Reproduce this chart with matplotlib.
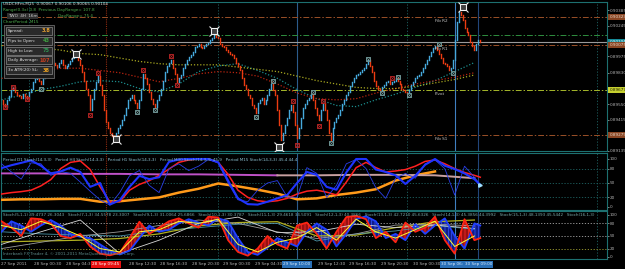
import datetime as dt
import numpy as np
import matplotlib
matplotlib.use("Agg")
import matplotlib.pyplot as plt
import matplotlib.transforms as mtrans
from matplotlib.patches import Rectangle

# ---- data (prices in pips, 1 pip = 0.0001) ----
closes = [
    8959, 8955, 8953, 8959, 8962, 8968, 8970, 8966, 8963, 8962,
    8961, 8964, 8962, 8960, 8966, 8969, 8975, 8977, 8981, 8976,
    8973, 8978, 8984, 8985, 8989, 8991, 8992, 8990, 8988, 8992,
    8994, 8990, 8987, 8989, 8991, 8993, 8996, 8997, 8999, 8994,
    8990, 8984, 8976, 8969, 8963, 8950, 8960, 8969, 8975, 8980,
    8972, 8963, 8950, 8939, 8934, 8930, 8927, 8925, 8930, 8934,
    8937, 8941, 8946, 8952, 8959, 8961, 8963, 8959, 8956, 8952,
    8959, 8969, 8982, 8978, 8973, 8966, 8960, 8955, 8953, 8959,
    8963, 8969, 8976, 8984, 8989, 8992, 8994, 8987, 8982, 8975,
    8978, 8981, 8987, 8991, 8994, 8997, 8999, 9001, 9006, 9007,
    9008, 9006, 9005, 9007, 9008, 9009, 9012, 9014, 9017, 9015,
    9014, 9008, 9007, 9006, 9003, 9001, 9000, 8999, 8996, 8992,
    8989, 8985, 8978, 8972, 8969, 8963, 8961, 8954, 8952, 8947,
    8956, 8959, 8961, 8955, 8959, 8963, 8969, 8973, 8968, 8963,
    8950, 8937, 8923, 8930, 8937, 8943, 8950, 8954, 8948, 8937,
    8925, 8934, 8943, 8952, 8955, 8959, 8961, 8964, 8959, 8952,
    8946, 8941, 8950, 8956, 8950, 8941, 8930, 8923, 8934, 8939,
    8943, 8946, 8950, 8955, 8959, 8963, 8966, 8971, 8975, 8978,
    8981, 8982, 8984, 8985, 8987, 8991, 8994, 8989, 8984, 8976,
    8971, 8969, 8968, 8970, 8972, 8975, 8976, 8973, 8975, 8976,
    8978, 8976, 8973, 8969, 8968, 8966, 8965, 8968, 8972, 8975,
    8978, 8980, 8981, 8984, 8987, 8991, 8994, 8998, 9001, 9005,
    9007, 9003, 9000, 8996, 8992, 8991, 8989, 8985, 8987, 8994,
    9012, 9028, 9037, 9034, 9030, 9023, 9019, 9016, 9010, 9007,
    9003, 9008, 9012, 9010.4,
]

# moving averages, one value every 10 bars
ma_teal = [8959, 8963, 8968, 8971, 8975, 8976, 8975, 8969, 8966, 8973, 8984, 8989, 8991,
           8985, 8978, 8968, 8960, 8954, 8953, 8959, 8964, 8970, 8976, 8984, 8992]
ma_red = [8978, 8981, 8984, 8987, 8987, 8985, 8983, 8979, 8975, 8978, 8982, 8984, 8983,
          8980, 8973, 8965, 8960, 8959, 8960, 8965, 8969, 8973, 8976, 8979, 8983]
ma_yellow = [9007, 9007, 9005, 9003, 9000, 8999, 8996, 8993, 8991, 8990, 8990, 8990, 8988,
             8986, 8984, 8980, 8976, 8973, 8970, 8969, 8969, 8971, 8974, 8977, 8981]

# daily levels
fib_r2 = 0.90323
green_lvl = 0.90163
fib_r1 = 0.90075
pivot = 0.89677
fib_s1 = 0.89279
bid = 0.90104

# fractals and zigzag points (bar index, pips)
frac_red_i = [6, 49, 72, 86, 148, 163, 198, 2, 13, 45, 89, 150, 161]
frac_red_p = [8970, 8983, 8985, 8998, 8958, 8958, 8978, 8953, 8960, 8946, 8972, 8919, 8936]
frac_grey_i = [20, 69, 78, 129, 138, 158, 167, 186, 193, 201, 207, 222, 229]
frac_grey_p = [8969, 8948, 8950, 8944, 8976, 8966, 8921, 8995, 8965, 8979, 8963, 9008, 8983]
zz_i = [38, 58, 108, 141, 234]
zz_p = [9000, 8924, 9020, 8917, 9041]

# panel 1: multi-timeframe stochastics (every 5 bars, last at bar 243)
st_h1 = [27, 30, 32, 35, 44, 57, 80, 93, 96, 78, 42, 11, 11, 35, 47, 55, 66, 79, 93, 98,
         100, 100, 93, 68, 35, 20, 13, 11, 13, 18, 27, 33, 35, 31, 25, 52, 82, 93, 82, 73,
         75, 78, 85, 95, 98, 90, 80, 72, 66, 62]
st_m30 = [81, 87, 92, 97, 86, 70, 74, 82, 73, 42, 50, 5, 14, 42, 65, 58, 62, 94, 99, 100,
          100, 100, 93, 55, 18, 6, 5, 11, 18, 25, 50, 73, 67, 42, 36, 72, 100, 100, 78, 73,
          66, 48, 65, 88, 100, 86, 79, 70, 58, 46]
st_m15 = [90, 73, 58, 92, 90, 66, 74, 70, 52, 33, 15, 4, 30, 65, 76, 45, 30, 80, 90, 76,
          85, 99, 92, 50, 15, 11, 35, 50, 55, 21, 20, 82, 70, 20, 45, 90, 99, 80, 40, 18,
          60, 70, 60, 90, 98, 80, 25, 85, 62, 46]
st_d1 = [15, 16, 16, 17, 17, 11, 12, 16, 20, 30, 38, 49, 43, 36, 28, 16, 18, 25, 30, 37, 55, 66, 74]
st_h4 = [70, 70, 69, 69, 68, 68, 67, 66, 66, 67, 67, 66, 60]

# panel 2: stochastic fan
sf_fast = [85, 70, 50, 92, 90, 80, 50, 45, 55, 25, 8, 4, 10, 45, 84, 55, 70, 85, 92, 80,
           70, 96, 94, 40, 12, 3, 20, 50, 30, 20, 75, 82, 55, 20, 60, 95, 98, 90, 45, 60,
           35, 82, 60, 70, 96, 40, 8, 90, 40, 45]
sf_slow = [60, 85, 75, 60, 75, 88, 75, 55, 48, 45, 30, 15, 6, 15, 45, 75, 60, 65, 80, 90,
           82, 75, 92, 85, 45, 12, 5, 22, 45, 35, 25, 60, 80, 65, 25, 55, 90, 97, 85, 45,
           55, 40, 78, 55, 75, 92, 50, 20, 80, 75]
sf_yellow = [75, 65, 85, 70, 50, 20, 12, 60, 65, 85, 80, 90, 30, 12, 35, 45, 70, 40, 90, 60,
             45, 65, 85, 25, 50]
sf_white = [30, 60, 88, 8, 40, 80, 95, 58, 60, 78, 70, 76, 68]
sf_grey = [20, 35, 50, 60, 75, 88, 80, 60, 44, 55, 76, 78, 74]
sf_olive = [36, 38, 40, 44, 55, 74, 82, 84, 50, 52, 70, 84, 88]
sf_teal = [60, 55, 52, 50, 62, 70, 78, 80, 38, 55, 62, 75, 66]

price_ticks = [0.90385, 0.90245, 0.89975, 0.89830, 0.89550, 0.89415, 0.89139]
osc_ticks = [100, 80, 50, 20, 0]

start = dt.datetime(2011, 9, 27, 20, 30)
red_vline = 53
blue_vlines = [150, 230, 242]
grid_days = [14, 110, 206, 302]

# ---- figure ----
W, H = 625, 269
def fx(px): return px / W
def fy(py): return 1 - py / H

UP = "#46a9dc"
DN = "#ec3c12"
GRID = "#1f6464"
SPINE = "#1d7070"
TXT = "#b4b4b4"
FS = 3.0

fig = plt.figure(figsize=(W / 100, H / 100), dpi=100, facecolor="black")
ax = fig.add_axes([fx(1), fy(151), fx(606), (151 - 2) / H])
ax1 = fig.add_axes([fx(1), fy(210), fx(606), (210 - 153) / H])
ax2 = fig.add_axes([fx(1), fy(259), fx(606), (259 - 211) / H])

for a in (ax, ax1, ax2):
    a.set_facecolor("black")
    a.set_xlim(-0.25, 307.3)
    a.set_xticks([])
    for s in a.spines.values():
        s.set_color(SPINE)
        s.set_linewidth(0.8)
    a.yaxis.tick_right()
    a.tick_params(axis="y", colors=TXT, labelsize=FS, length=1.5, width=0.5, pad=0.6)
    for d in grid_days:
        a.axvline(d, color=GRID, ls=(0, (1.5, 2)), lw=0.6, zorder=0)
    a.axvline(red_vline, color="#8c2a10", ls=(0, (1, 1)), lw=0.8, zorder=1)
    a.axvline(blue_vlines[0], color="#2c5c8c", lw=0.8, zorder=1)
    a.axvline(blue_vlines[1], color="#3f7fc0", lw=0.8, zorder=1)
    a.axvline(blue_vlines[2], color="#22467a", lw=0.8, zorder=1)

# main chart
c = np.array(closes) / 10000
o = np.r_[c[0], c[:-1]]
idx = np.arange(len(c))
up = c >= o
l1 = ax.vlines(idx[up], o[up], c[up], color=UP, lw=1.0, zorder=4)
l2 = ax.vlines(idx[~up], c[~up], o[~up], color=DN, lw=1.0, zorder=4)
l1.set_capstyle("projecting")
l2.set_capstyle("projecting")

x10 = np.arange(len(ma_teal)) * 10
ax.plot(x10, np.array(ma_teal) / 1e4, color="#1c8c8c", ls=(0, (1, 1.5)), lw=0.9, zorder=3)
ax.plot(x10, np.array(ma_red) / 1e4, color="#b82410", ls=(0, (1, 1.5)), lw=0.9, zorder=3)
ax.plot(x10, np.array(ma_yellow) / 1e4, color="#a8a820", ls=(0, (1, 1.5)), lw=0.9, zorder=3)

dashdot = (0, (6, 2, 1.5, 2))
ax.axhline(fib_r2, color="#9a5028", ls=dashdot, lw=0.7, zorder=2)
ax.axhline(green_lvl, color="#2f8f3f", ls=dashdot, lw=0.7, zorder=2)
ax.axhline(bid, color="#9a9a9a", lw=0.8, zorder=2)
ax.axhline(fib_r1, color="#9a5028", ls=dashdot, lw=0.7, zorder=2)
ax.axhline(pivot, color="#a6b82a", ls=dashdot, lw=0.7, zorder=2)
ax.axhline(fib_s1, color="#9a5028", ls=dashdot, lw=0.7, zorder=2)

for name, lvl in [("Fib R2", fib_r2), ("Fib R1", fib_r1), ("Pivot", pivot), ("Fib S1", fib_s1)]:
    ax.annotate(name, (220, lvl), xytext=(0, -1.2), textcoords="offset points",
                va="top", ha="left", color="#c8c8c8", fontsize=FS, zorder=6)

ax.plot(frac_red_i, np.array(frac_red_p) / 1e4, ls="none", marker="s", ms=3.2,
        mfc="none", mec="#b02424", mew=0.7, zorder=5)
ax.plot(frac_red_i, np.array(frac_red_p) / 1e4, ls="none", marker="x", ms=2.4,
        mec="#b02424", mew=0.5, zorder=5)
ax.plot(frac_grey_i, np.array(frac_grey_p) / 1e4, ls="none", marker="s", ms=3.2,
        mfc="none", mec="#6e9494", mew=0.7, zorder=5)
ax.plot(frac_grey_i, np.array(frac_grey_p) / 1e4, ls="none", marker="x", ms=2.4,
        mec="#6e9494", mew=0.5, zorder=5)
ax.plot(zz_i, np.array(zz_p) / 1e4, ls="none", marker="x", ms=7, mec="#e8e8e8", mew=0.8, zorder=6)
ax.plot(zz_i, np.array(zz_p) / 1e4, ls="none", marker="s", ms=4.5, mfc="#404040",
        mec="#f0f0f0", mew=0.8, zorder=7)

ax.set_ylim(0.89137, 0.90456)
ax.set_yticks(price_ticks)
ax.set_yticklabels([f"{t:.5f}" for t in price_ticks])

tr = mtrans.blended_transform_factory(ax.transAxes, ax.transData)
for lvl, fc, tc in [(fib_r2, "#8a4624", "#e8d8c8"), (bid, "#168a98", "#e8ffff"),
                    (fib_r1, "#8a4624", "#e8d8c8"), (pivot, "#c6d030", "#202000"),
                    (fib_s1, "#8a4624", "#e8d8c8")]:
    ax.text(1.004, lvl, f"{lvl:.5f}", transform=tr, ha="left", va="center", fontsize=FS,
            color=tc, clip_on=False, zorder=10,
            bbox=dict(facecolor=fc, edgecolor="none", pad=0.7))

# panel 1
x5 = list(range(0, 241, 5)) + [243]
x20 = np.arange(len(st_h4)) * 20
ax1.plot(np.arange(len(st_d1)) * 10, st_d1, color="#ff9a1a", lw=1.8, zorder=3)
ax1.plot(x20[:8], st_h4[:8], color="#c052c8", lw=1.4, zorder=3)
ax1.plot(x20[7:], st_h4[7:], color="#c8a0a0", lw=1.4, zorder=3)
ax1.plot(x5, st_h1, color="#ff2020", lw=1.1, zorder=4)
ax1.plot(x5, st_m15, color="#2a3ee8", lw=0.6, zorder=4)
ax1.plot(x5, st_m30, color="#1f34ff", lw=1.5, zorder=5)
ax1.plot([x5[-1]], [st_m15[-1]], ls="none", marker=">", ms=2.5, color="#a0e0ff", zorder=6)
for lv in (80, 50, 20):
    ax1.axhline(lv, color=GRID, ls=(0, (1.5, 2)), lw=0.6, zorder=0)
ax1.set_ylim(-6.25, 112.5)
ax1.set_yticks(osc_ticks)
ax1.set_yticklabels([str(t) for t in osc_ticks])
ax1.text(0.004, 0.877,
         "Period D1 Stoch(14,3,3)   Period H4 Stoch(14,3,3)   Period H1 Stoch(14,3,3)   "
         "Period M30 Stoch(14,3,3) 45.9   Period M15 Stoch(14,3,3) 45.4 44.4",
         transform=ax1.transAxes, color="#8cc0d0", fontsize=FS, va="center", zorder=22,
         clip_on=True)

# panel 2
plt.rcParams["hatch.linewidth"] = 0.5
fast = np.array(sf_fast, float)
slow = np.array(sf_slow, float)
ax2.fill_between(x5, fast, slow, where=fast >= slow, interpolate=True, facecolor="#9a1010",
                 edgecolor="#ff3030", hatch="|||||", lw=0, zorder=2)
ax2.fill_between(x5, fast, slow, where=fast < slow, interpolate=True, facecolor="#101c8a",
                 edgecolor="#3858ff", hatch="|||||", lw=0, zorder=2)
x20b = np.arange(len(sf_white)) * 20
ax2.plot(x20b, sf_olive, color="#b0b020", lw=0.9, zorder=3)
ax2.plot(x20b, sf_teal, color="#4a94a8", lw=0.6, zorder=3)
ax2.plot(x20b, sf_grey, color="#9c9c9c", lw=0.6, zorder=3)
ax2.plot(x20b, sf_white, color="#d8d8d8", lw=0.6, zorder=3)
ax2.plot(x5, slow, color="#2040ff", lw=1.3, zorder=4)
ax2.plot(x5, fast, color="#ff2412", lw=1.3, zorder=5)
ax2.plot(np.arange(len(sf_yellow)) * 10, sf_yellow, color="#ffff30", lw=0.7, zorder=6)
ax2.axhline(80, color="#a8a8a8", ls=(0, (1.5, 2)), lw=0.6, zorder=1)
ax2.axhline(50, color="#a8a8a8", ls=(0, (1.5, 2)), lw=0.6, zorder=1)
ax2.axhline(20, color="#a0a030", ls=(0, (1.5, 2)), lw=0.6, zorder=1)
ax2.set_ylim(-4.8, 109.5)
ax2.set_yticks(osc_ticks)
ax2.set_yticklabels([str(t) for t in osc_ticks])
ax2.text(0.004, 0.917,
         "Stoch(5,1,1) 39.4737 26.3043   Stoch(7,1,3) 34.5578 23.3007   Stoch(9,1,3) 31.0064 25.6866   "
         "Stoch(10,1,3) 30.3787   Stoch(11,1,3) 29.4618 34.5091   Stoch(12,1,3) 40.3866   "
         "Stoch(13,1,3) 42.7210 45.6326   Stoch(14,1,3) 45.3856 44.3992   Stoch(15,1,3) 48.1393 45.5442   "
         "Stoch(16,1,3)",
         transform=ax2.transAxes, color="#78a8a8", fontsize=FS, va="center", zorder=22,
         clip_on=True)
ax2.text(0.004, 0.104, "Interbank FX Trader 4, \u00a9 2001-2011 MetaQuotes Software Corp.",
         transform=ax2.transAxes, color="#5e8a8a", fontsize=FS, va="center", zorder=22)

# time axis (labels hidden under the vertical-line boxes are skipped, as the terminal does)
times = [start + dt.timedelta(minutes=15 * i) for i in range(len(closes))]
trt = mtrans.blended_transform_factory(ax2.transData, ax2.transAxes)
boxed = [red_vline] + blue_vlines
ax2.text(0, -0.11, times[0].strftime("%d Sep %Y"), transform=trt, ha="left", va="center",
         fontsize=FS, color=TXT, clip_on=False, zorder=8)
for i in range(16, len(closes), 16):
    if any(abs(i - b) < 9 for b in boxed):
        continue
    ax2.text(i + 0.6, -0.11, times[i].strftime("%d Sep %H:%M"), transform=trt, ha="left",
             va="center", fontsize=FS, color=TXT, clip_on=False, zorder=8)
ax2.text(red_vline, -0.11, times[red_vline].strftime("%d Sep %H:%M"), transform=trt,
         ha="center", va="center", fontsize=FS, color="white", clip_on=False, zorder=9,
         bbox=dict(facecolor="#e81010", edgecolor="none", pad=0.9))
for v in blue_vlines:
    ax2.text(v, -0.11, times[v].strftime("%d Sep %H:%M"), transform=trt, ha="center",
             va="center", fontsize=FS, color="#d8ecff", clip_on=False, zorder=9,
             bbox=dict(facecolor="#2a70b8", edgecolor="none", pad=0.9))

# header texts
fig.text(fx(3), fy(4), "USDCHFm,M15  0.90067 0.90106 0.90065 0.90104", color="#dcdcdc",
         fontsize=FS, va="center")
fig.text(fx(3), fy(10), "Range(0.3x) 0.8  Previous DayRange= 107.8", color="#4caa4c",
         fontsize=FS, va="center")
fig.text(fx(8), fy(16), "TWO  4H  16m", color="#d0d0d0", fontsize=FS, va="center", zorder=22,
         bbox=dict(facecolor="#303030", edgecolor="none", pad=0.6))
fig.text(fx(58), fy(16), "DayRange= 75.4", color="#4caa4c", fontsize=FS, va="center")
fig.text(fx(3), fy(22), "ChartPeriod: M15", color="#4caa4c", fontsize=FS, va="center")


def box(px0, py0, px1, py1, fc, ec, lw=0.6, z=20):
    r = Rectangle((fx(px0), fy(py1)), fx(px1 - px0), (py1 - py0) / H,
                  transform=fig.transFigure, facecolor=fc, edgecolor=ec, lw=lw, zorder=z)
    fig.add_artist(r)


info_rows = [("Spread:", "3.8", "#e8a030"), ("Pips to Open:", "43", "#3ea040"),
             ("High to Low:", "75", "#2e9050"), ("Daily Average:", "107", "#c84020"),
             ("3x ATR(20) SL:", "38", "#e8a020")]
box(4, 25, 54, 78, "#181818", "#6a6a6a")
for k, (lab, val, vc) in enumerate(info_rows):
    cy = 31 + 9.8 * k
    box(6, cy - 4, 52, cy + 4, "#2a2a2a", "#8a8a8a", lw=0.5, z=21)
    fig.text(fx(8), fy(cy), lab, color="#e0e0e0", fontsize=FS, va="center", zorder=22)
    fig.text(fx(50), fy(cy), val, color=vc, fontsize=3.6, va="center", ha="right",
             weight="bold", zorder=22)

fig.savefig("out.png", dpi=100, facecolor="black")
